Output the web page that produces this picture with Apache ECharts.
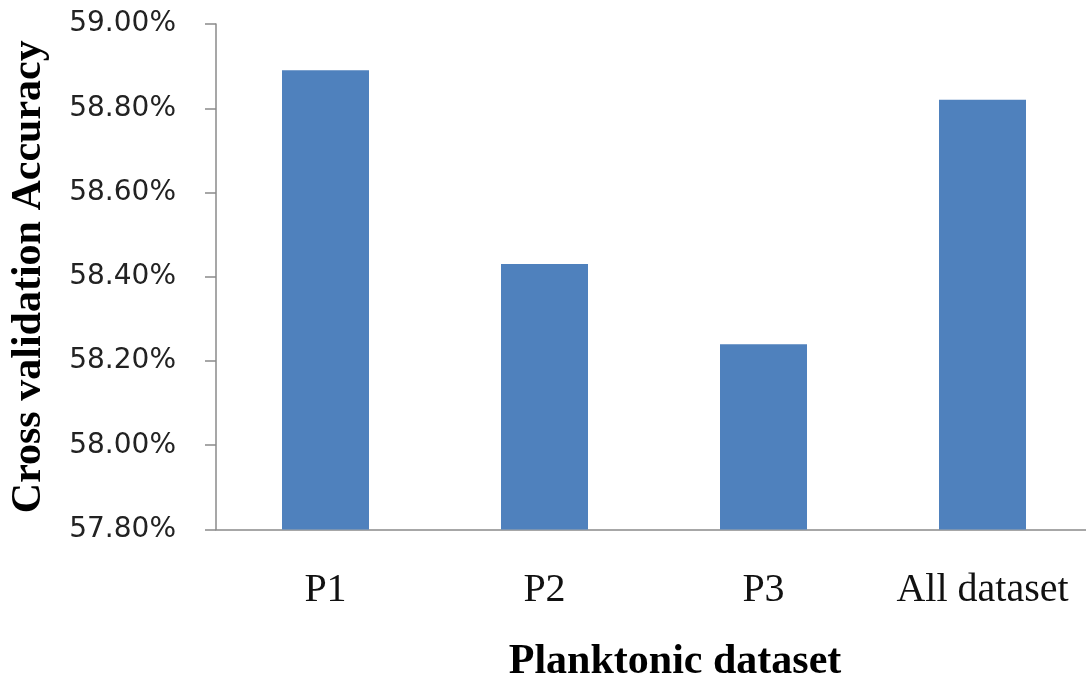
<!DOCTYPE html>
<html>
<head>
<meta charset="utf-8">
<script src="https://cdn.jsdelivr.net/npm/echarts@6/dist/echarts.min.js"></script>
<style>
html,body{margin:0;padding:0;background:#fff;}
#chart{width:1086px;height:675px;}
</style>
</head>
<body>
<div id="chart"></div>
<script>
const categories = ['P1', 'P2', 'P3', 'All dataset'];
const accuracy = [58.89, 58.43, 58.24, 58.82];
const yMin = 57.8, yMax = 59.0, yStep = 0.2;
const xTitle = 'Planktonic dataset';
const yTitle = 'Cross validation Accuracy';

const chart = echarts.init(document.getElementById('chart'));
chart.setOption({
  animation: false,
  backgroundColor: '#ffffff',
  grid: { left: 216, top: 24, width: 876, bottom: 145.5, containLabel: false, outerBoundsMode: 'none' },
  xAxis: {
    type: 'category',
    data: categories,
    name: xTitle,
    nameLocation: 'middle',
    nameGap: 112,
    nameTextStyle: { fontFamily: 'Liberation Serif', fontWeight: 'bold', fontSize: 42, color: '#000', padding: [0, 0, 0, 42] },
    axisLine: { lineStyle: { color: '#8a8a8a', width: 1.5 } },
    axisTick: { show: false },
    axisLabel: { fontFamily: 'Liberation Serif', fontSize: 40, color: '#111', margin: 41, interval: 0 }
  },
  yAxis: {
    type: 'value',
    min: yMin, max: yMax, interval: yStep,
    name: yTitle,
    nameLocation: 'middle',
    nameRotate: 90,
    nameGap: 166,
    nameTextStyle: { fontFamily: 'Liberation Serif', fontWeight: 'bold', fontSize: 42, color: '#000' },
    axisLine: { show: true, lineStyle: { color: '#8a8a8a', width: 1.5 } },
    axisTick: { show: true, inside: false, length: 11, lineStyle: { color: '#8a8a8a', width: 1.5 } },
    splitLine: { show: false },
    axisLabel: {
      fontFamily: 'DejaVu Sans', fontSize: 28, color: '#222', margin: 40,
      formatter: v => v.toFixed(2) + '%'
    }
  },
  series: [{
    type: 'bar',
    data: accuracy,
    barWidth: 87,
    itemStyle: { color: '#4f81bd' }
  }]
});
</script>
</body>
</html>
